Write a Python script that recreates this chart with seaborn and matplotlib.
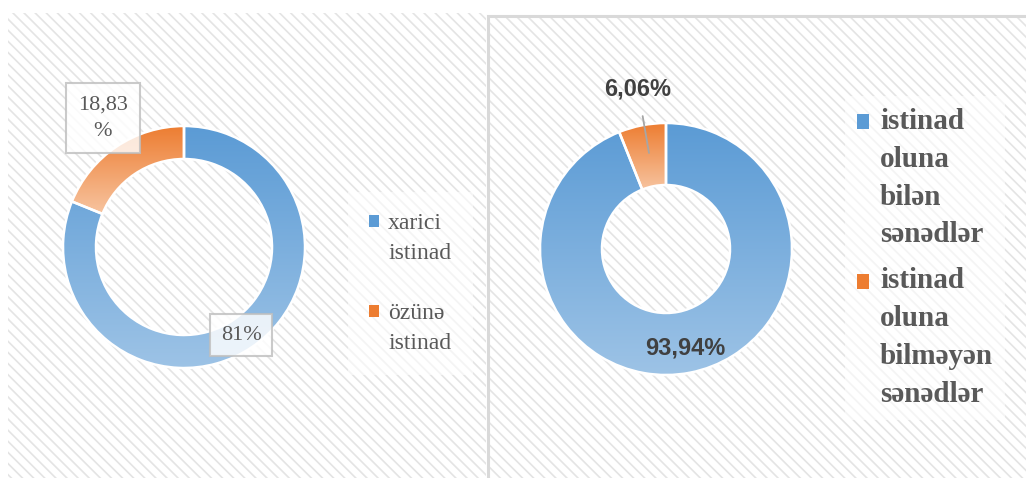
import numpy as np
import matplotlib
matplotlib.use("Agg")
import matplotlib.pyplot as plt
import seaborn as sns
from matplotlib.patches import Rectangle, Patch
from matplotlib.colors import LinearSegmentedColormap
from matplotlib.legend_handler import HandlerPatch

# ---------------- data ----------------
left_labels = ["xarici\nistinad", "özünə\nistinad"]
left_values = [81.0, 18.83]
left_texts = ["81%", "18,83\n%"]

right_labels = ["istinad\noluna\nbilən\nsənədlər", "istinad\noluna\nbilməyən\nsənədlər"]
right_values = [93.94, 6.06]
right_texts = ["93,94%", "6,06%"]

# ---------------- style ----------------
sns.set_theme(style="white")
plt.rcParams["hatch.linewidth"] = 1.2
SERIF = ["Liberation Serif", "DejaVu Serif"]
SANS = ["Liberation Sans", "DejaVu Sans"]

palette = sns.color_palette(["#5B9BD5", "#ED7D31"])
grad_pairs = [("#9DC3E6", "#5B9BD5"), ("#F7C4A0", "#ED7D31")]
cmaps = [LinearSegmentedColormap.from_list(f"g{i}", p) for i, p in enumerate(grad_pairs)]

W, H = 1026, 478
fig = plt.figure(figsize=(W / 100, H / 100), dpi=100)
fig.patch.set_facecolor("white")
ax = fig.add_axes([0, 0, 1, 1])


def Y(ypx):
    return H - ypx


# panels with hatched background
ax.add_patch(Rectangle((8, 0), 478, Y(13), facecolor="white", edgecolor="#e4e4e4",
                       hatch="\\\\\\", lw=0, zorder=0))
ax.add_patch(Rectangle((489, 0), 540, Y(16), facecolor="white", edgecolor="#e4e4e4",
                       hatch="\\\\\\", lw=0, zorder=0))
ax.add_patch(Rectangle((488, -5), 545, Y(16) + 5, facecolor="none", edgecolor="#d9d9d9",
                       lw=2.2, zorder=0.5))

grad = np.linspace(0, 1, 256).reshape(-1, 1)


def donut(values, center, radius, width):
    wedges, _ = ax.pie(values, center=center, radius=radius, startangle=90,
                       counterclock=False,
                       wedgeprops=dict(width=width, edgecolor="white", linewidth=1.8,
                                       facecolor="none"))
    for w, cm in zip(wedges, cmaps):
        w.set_zorder(3)
        bb = w.get_path().get_extents()
        im = ax.imshow(grad, extent=[bb.x0, bb.x1, bb.y0, bb.y1], origin="lower",
                       cmap=cm, aspect="auto", zorder=2, interpolation="bilinear")
        im.set_clip_path(w)
    return wedges


# left donut
lc = (184, Y(247))
donut(left_values, lc, 121, 121 - 88)
# right donut
rc = (666, Y(249))
donut(right_values, rc, 126, 126 - 64)

# left labels (boxed)
box1 = dict(boxstyle="square,pad=0.5", facecolor="white", alpha=0.82,
            edgecolor="#bfbfbf", linewidth=1.5)
box2 = dict(boxstyle="square,pad=0.55", facecolor="white", alpha=0.82,
            edgecolor="#bfbfbf", linewidth=1.5)
ax.text(241, Y(335), left_texts[0], ha="center", va="center", fontsize=16,
        family=SERIF, color="#595959", bbox=box1, zorder=6)
ax.text(103, Y(118), left_texts[1], ha="center", va="center", fontsize=16,
        family=SERIF, color="#595959", bbox=box2, zorder=6, linespacing=1.55)

# right labels
ax.text(685, Y(348), right_texts[0], ha="center", va="center", fontsize=17,
        family=SANS, fontweight="bold", color="#404040", zorder=6)
ax.annotate(right_texts[1], xy=(649, Y(153)), xytext=(638, Y(89)),
            ha="center", va="center", fontsize=17, family=SANS, fontweight="bold",
            color="#404040", zorder=6,
            arrowprops=dict(arrowstyle="-", color="#a6a6a6", lw=1.3,
                            shrinkA=9, shrinkB=0))


class ShiftedSquare(HandlerPatch):
    def __init__(self, shift, **kw):
        super().__init__(**kw)
        self.shift = shift

    def create_artists(self, legend, orig_handle, xdescent, ydescent, width, height,
                       fontsize, trans):
        p = Rectangle((-xdescent, -ydescent + self.shift), width, height,
                      facecolor=orig_handle.get_facecolor(), edgecolor="none",
                      transform=trans)
        return [p]


# left legend
lh = [Patch(facecolor=palette[0]), Patch(facecolor=palette[1])]
leg1 = ax.legend(lh, left_labels, loc="upper left",
                 bbox_to_anchor=(348 / W, Y(192) / H), bbox_transform=fig.transFigure,
                 prop=dict(family=SERIF, size=17), labelcolor="#595959",
                 frameon=True, fancybox=False, framealpha=0.6, edgecolor="none",
                 handlelength=0.4, handleheight=0.4, handletextpad=0.4,
                 labelspacing=1.65, borderpad=0.9, borderaxespad=0,
                 handler_map={Patch: ShiftedSquare(12.2)})
for t in leg1.get_texts():
    t.set_linespacing(1.55)
ax.add_artist(leg1)

# right legend
leg2 = ax.legend(lh, right_labels, loc="upper left",
                 bbox_to_anchor=(845 / W, Y(96) / H), bbox_transform=fig.transFigure,
                 prop=dict(family=SERIF, size=21, weight="bold"), labelcolor="#595959",
                 frameon=True, fancybox=False, framealpha=0.6, edgecolor="none",
                 handlelength=0.42, handleheight=0.42, handletextpad=0.38,
                 labelspacing=0.65, borderpad=0.4, borderaxespad=0,
                 handler_map={Patch: ShiftedSquare(40.5)})
for t in leg2.get_texts():
    t.set_linespacing(1.52)

ax.set_xlim(0, W)
ax.set_ylim(0, H)
ax.set_aspect("auto")
ax.axis("off")

fig.savefig("out.png", dpi=100, facecolor="white")
